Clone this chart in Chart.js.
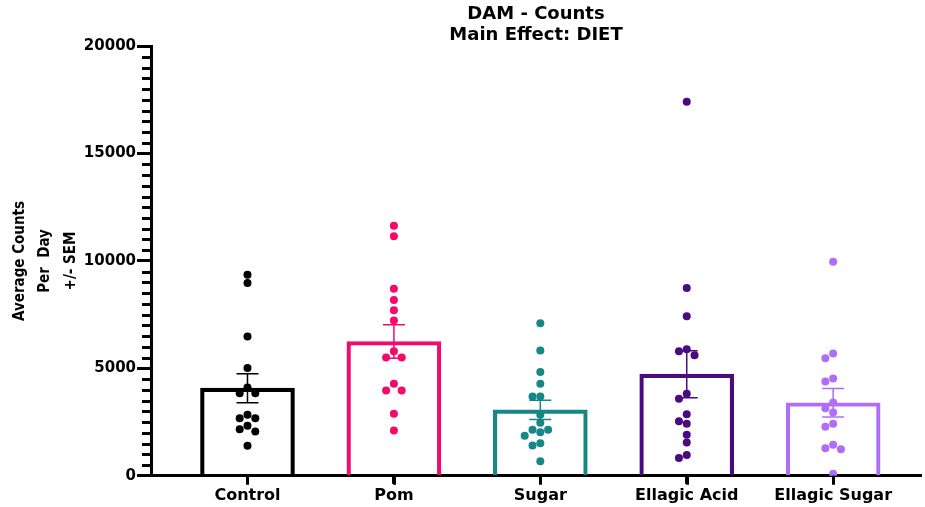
<!DOCTYPE html>
<html>
<head>
<meta charset="utf-8">
<script src="https://cdn.jsdelivr.net/npm/chart.js@4.4.1/dist/chart.umd.min.js"></script>
<style>
  html, body { margin: 0; padding: 0; background: #fff; }
  #wrap { width: 925px; height: 507px; }
</style>
</head>
<body>
<div id="wrap"><canvas id="damChart"></canvas></div>
<script>
// diet groups and their colours
const groups = ['Control', 'Pom', 'Sugar', 'Ellagic Acid', 'Ellagic Sugar'];
const groupColors = ['#000000', '#f5096c', '#168784', '#4a0a80', '#b06ef6'];

// bar heights (mean) and SEM per group
const groupMeans = [4080, 6250, 3070, 4730, 3400];
const groupSem = [675, 775, 450, 1093, 666];

// individual animals, counts per day
const controlCounts = [9363, 8977, 6479, 5023, 4107, 3847, 3847, 2837, 2684, 2684, 2326, 2172, 2060, 1395];
const pomCounts = [11642, 11149, 8712, 8186, 7707, 7223, 5800, 5502, 5502, 4279, 3967, 3967, 2884, 2107];
const sugarCounts = [7101, 5830, 4837, 4279, 3690, 3690, 2837, 2465, 2140, 2140, 2031, 1860, 1519, 1411, 682];
const ellagicAcidCounts = [17410, 8744, 7428, 5893, 5800, 5614, 3814, 3581, 2868, 2544, 2419, 1907, 1550, 963, 823];
const ellagicSugarCounts = [9967, 5690, 5474, 4527, 4388, 3411, 3147, 2946, 2419, 2279, 1442, 1287, 1240, 93];

const yTicks = [0, 5000, 10000, 15000, 20000];
const yMinorStep = 500;

const countSets = [controlCounts, pomCounts, sugarCounts, ellagicAcidCounts, ellagicSugarCounts];

// mean +/- SEM whiskers
const errorBars = {
  id: 'errorBars',
  afterDatasetsDraw(chart) {
    const { ctx, scales: { x, y } } = chart;
    ctx.save();
    ctx.lineWidth = 1.5;
    groupMeans.forEach((m, i) => {
      const px = x.getPixelForValue(i + 1);
      const top = y.getPixelForValue(m + groupSem[i]);
      const bot = y.getPixelForValue(m - groupSem[i]);
      ctx.strokeStyle = groupColors[i];
      ctx.beginPath();
      ctx.moveTo(px, top); ctx.lineTo(px, bot);
      ctx.moveTo(px - 11, top); ctx.lineTo(px + 11, top);
      ctx.moveTo(px - 11, bot); ctx.lineTo(px + 11, bot);
      ctx.stroke();
    });
    ctx.restore();
  }
};

// short minor ticks on the y axis, plus the category ticks under the x axis
const axisTicks = {
  id: 'axisTicks',
  afterDraw(chart) {
    const { ctx, scales: { x, y } } = chart;
    const { left, bottom } = chart.chartArea;
    ctx.save();
    ctx.strokeStyle = '#000';
    ctx.lineWidth = 3;
    ctx.beginPath();
    for (let v = y.min; v <= y.max; v += yMinorStep) {
      if (yTicks.includes(v)) continue;
      const py = Math.round(y.getPixelForValue(v)) + 0.5;
      ctx.moveTo(left - 9, py);
      ctx.lineTo(left, py);
    }
    groups.forEach((g, i) => {
      const px = Math.round(x.getPixelForValue(i + 1)) + 0.5;
      ctx.moveTo(px, bottom);
      ctx.lineTo(px, bottom + 9);
    });
    ctx.stroke();
    ctx.restore();
  }
};

const datasets = [{
  type: 'bar',
  data: groupMeans.map((m, i) => ({ x: i + 1, y: m })),
  backgroundColor: 'rgba(255,255,255,0)',
  borderColor: groupColors,
  borderWidth: 3.5,
  barThickness: 94,
  order: 2
}];
countSets.forEach((vals, i) => {
  datasets.push({
    type: 'scatter',
    data: vals.map(v => ({ x: i + 1, y: v })),
    backgroundColor: groupColors[i],
    borderWidth: 0,
    pointRadius: 4,
    order: 1
  });
});

const chart = new Chart(document.getElementById('damChart'), {
  type: 'bar',
  data: { datasets },
  options: {
    responsive: true,
    maintainAspectRatio: false,
    animation: false,
    layout: { padding: 0 },
    plugins: {
      legend: { display: false },
      tooltip: { enabled: false },
      title: {
        display: true,
        fullSize: false,
        text: ['DAM - Counts', 'Main Effect: DIET'],
        color: '#000',
        font: { family: 'DejaVu Sans', size: 18, weight: 'bold', lineHeight: 1.17 },
        padding: { top: 4, bottom: 0 }
      }
    },
    scales: {
      x: {
        type: 'linear',
        offset: false,
        min: 0.341,
        max: 5.6,
        afterBuildTicks(scale) {
          scale.ticks = groups.map((g, i) => ({ value: i + 1 }));
        },
        ticks: {
          color: '#000',
          font: { family: 'DejaVu Sans', size: 16, weight: 'bold' },
          padding: 2,
          maxRotation: 0,
          autoSkip: false,
          callback: v => groups[v - 1]
        },
        grid: { offset: false, drawOnChartArea: false, tickLength: 8, tickWidth: 3, tickColor: '#000' },
        border: { color: '#000', width: 3 }
      },
      y: {
        min: 0,
        max: 20000,
        afterFit(scale) { scale.width = 151; },
        afterBuildTicks(scale) {
          scale.ticks = yTicks.map(v => ({ value: v }));
        },
        ticks: {
          color: '#000',
          font: { family: 'DejaVu Sans', size: 15, weight: 'bold' },
          padding: 1,
          callback: v => String(v)
        },
        grid: { drawOnChartArea: false, tickLength: 14, tickWidth: 3, tickColor: '#000' },
        border: { color: '#000', width: 3 },
        title: {
          display: true,
          text: ['Average Counts', 'Per  Day', '+/- SEM'],
          color: '#000',
          font: { family: "'DejaVu Sans Condensed', 'Liberation Sans', sans-serif", size: 15, weight: 'bold', lineHeight: 1.7 },
          padding: { top: 7, bottom: 0 }
        }
      }
    }
  },
  plugins: [errorBars, axisTicks]
});

// spread overlapping points sideways, swarm style
function placeSwarm(chart) {
  const xs = chart.scales.x, ys = chart.scales.y;
  const pxPerUnit = xs.getPixelForValue(2) - xs.getPixelForValue(1);
  const step = 7.8, minDist = 7.6;
  countSets.forEach((vals, i) => {
    const placed = [];
    chart.data.datasets[i + 1].data = vals.map(v => {
      const py = ys.getPixelForValue(v);
      let dx = 0;
      for (let n = 0; n < 30; n++) {
        const k = n === 0 ? 0 : (n % 2 ? -Math.ceil(n / 2) : Math.ceil(n / 2));
        dx = k * step;
        if (placed.every(p => Math.hypot(p.dx - dx, p.py - py) >= minDist)) break;
      }
      placed.push({ dx, py });
      return { x: i + 1 + dx / pxPerUnit, y: v };
    });
  });
  chart.update('none');
}
placeSwarm(chart);
</script>
</body>
</html>
